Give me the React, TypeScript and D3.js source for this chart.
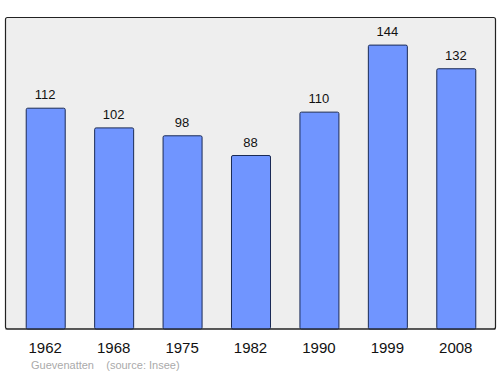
import React from "react";
import * as d3 from "d3";

const years = ["1962", "1968", "1975", "1982", "1990", "1999", "2008"];
const population = [112, 102, 98, 88, 110, 144, 132];
const footnote = "Guevenatten    (source: Insee)";

export default function App() {
  const W = 500, H = 374;
  const left = 5.5, top = 17.5, right = 495.5, bottom = 329;
  const x = d3.scaleBand<string>().domain(years).range([11, 490]).paddingInner(0.43).paddingOuter(0.215);
  const y = d3.scaleLinear().domain([0, 158]).range([bottom, top]);
  const font = "'Liberation Sans', Arial, sans-serif";
  return (
    <svg width={W} height={H} style={{ position: "absolute", left: 0, top: 0 }} fontFamily={font}>
      <rect x={left} y={top} width={right - left} height={bottom - top} fill="#eeeeee" stroke="#222" strokeWidth={1.2} rx={2} />
      {population.map((v, i) => {
        const bx = x(years[i])!;
        return (
          <g key={years[i]}>
            <rect x={bx + 0.5} y={y(v)} width={x.bandwidth()} height={bottom - y(v)} fill="#7095ff" stroke="#1a2a55" strokeWidth={1} rx={1.5} />
            <text x={bx + x.bandwidth() / 2} y={y(v) - 9} textAnchor="middle" fontSize={13} fill="#111">{v}</text>
          </g>
        );
      })}
      <line x1={left} x2={right} y1={bottom} y2={bottom} stroke="#222" strokeWidth={1.2} />
      {years.map((yr) => (
        <text key={yr} x={x(yr)! + x.bandwidth() / 2} y={353} textAnchor="middle" fontSize={15} fill="#111">{yr}</text>
      ))}
      <text x={31} y={369} fontSize={11} fill="#aaaaaa" style={{ whiteSpace: "pre" }}>{footnote}</text>
    </svg>
  );
}
